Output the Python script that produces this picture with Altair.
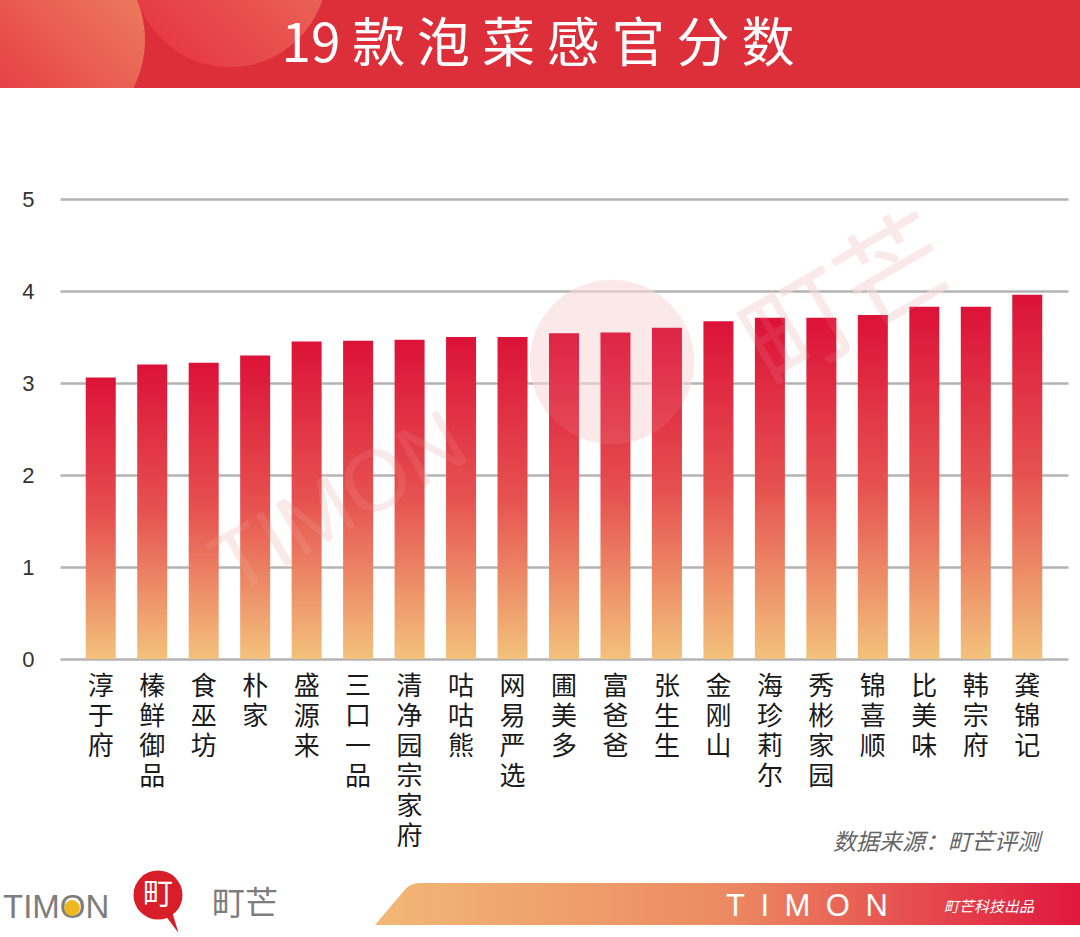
import altair as alt
import pandas as pd

brands = ["淳于府", "榛鲜御品", "食巫坊", "朴家", "盛源来", "三口一品", "清净园宗家府",
          "咕咕熊", "网易严选", "圃美多", "富爸爸", "张生生", "金刚山", "海珍莉尔",
          "秀彬家园", "锦喜顺", "比美味", "韩宗府", "龚锦记"]
scores = [3.06, 3.20, 3.22, 3.30, 3.45, 3.46, 3.47, 3.50, 3.50, 3.54, 3.55, 3.60,
          3.67, 3.71, 3.71, 3.74, 3.83, 3.83, 3.96]
y_ticks = [0, 1, 2, 3, 4, 5]

title_text = "19 款 泡 菜 感 官 分 数"
source_text = "数据来源：町芒评测"

df = pd.DataFrame({"品牌": brands, "分数": scores})
one = alt.Data(values=[{"k": 1}])

W, H = 1008, 460
PL, PT = 60, 199
CJK = "Noto Sans CJK SC"


def px(X):
    return X - PL


def py(Y):
    return Y - PT


bar_grad = alt.Gradient(
    gradient="linear",
    stops=[alt.GradientStop(color="#dc1238", offset=0),
           alt.GradientStop(color="#e65250", offset=0.5),
           alt.GradientStop(color="#f3c27c", offset=1)],
    x1=0, x2=0, y1=0, y2=1)

bars = alt.Chart(df).mark_bar(fill=bar_grad).encode(
    x=alt.X("品牌:N", sort=brands,
            scale=alt.Scale(paddingInner=0.417, paddingOuter=0.5),
            axis=alt.Axis(title=None, labelAngle=0, domain=False, ticks=False,
                          labelExpr="split(datum.label, '')",
                          labelFont=CJK, labelFontSize=26, labelColor="#1a1a1a",
                          labelLineHeight=30, labelPadding=14, labelBaseline="top")),
    y=alt.Y("分数:Q", scale=alt.Scale(domain=[0, 5]),
            axis=alt.Axis(title=None, values=y_ticks, domain=False, ticks=False,
                          grid=True, gridColor="#b3b3b3", gridWidth=2.5,
                          labelFont="Liberation Sans", labelFontSize=22,
                          labelColor="#333333", labelPadding=26)),
)

# header band with decorative circles
header = alt.Chart(one).mark_rect(color="#dd2f3a").encode(
    x=alt.value(px(0)), x2=alt.value(px(1080)), y=alt.value(py(0)), y2=alt.value(py(88)))

circ1_grad = alt.Gradient(gradient="linear",
                          stops=[alt.GradientStop(color="#e3233b", offset=0),
                                 alt.GradientStop(color="#ee8a62", offset=1)],
                          x1=0, x2=1, y1=1, y2=0)
circ2_grad = alt.Gradient(gradient="linear",
                          stops=[alt.GradientStop(color="#e53040", offset=0),
                                 alt.GradientStop(color="#ec7a60", offset=1)],
                          x1=0, x2=1, y1=1, y2=0)
circle1 = alt.Chart(one).mark_arc(radius=105, theta=0, theta2=6.2832, fill=circ1_grad).encode(
    x=alt.value(px(40)), y=alt.value(py(40)))
circle2 = alt.Chart(one).mark_arc(radius=97, theta=0, theta2=6.2832, fill=circ2_grad).encode(
    x=alt.value(px(230)), y=alt.value(py(-30)))
cover = alt.Chart(one).mark_rect(color="white").encode(
    x=alt.value(px(0)), x2=alt.value(px(1080)), y=alt.value(py(88)), y2=alt.value(py(185)))

title = alt.Chart(one).mark_text(text=title_text, font=CJK, fontSize=53, color="white",
                                 align="center", baseline="middle").encode(
    x=alt.value(px(538)), y=alt.value(py(46)))


# watermark: pink behind the bars, whitish veil over them
def watermark(color, op):
    c = alt.Chart(one).mark_point(shape="circle", filled=True, size=27000,
                                  color=color, opacity=op).encode(
        x=alt.value(px(612)), y=alt.value(py(362)))
    t = alt.Chart(one).mark_text(text="TIMON", font="Liberation Sans", fontSize=86,
                                 angle=330, color=color, opacity=op,
                                 align="center", baseline="middle").encode(
        x=alt.value(px(340)), y=alt.value(py(505)))
    g = alt.Chart(one).mark_text(text="町芒", font=CJK, fontSize=110,
                                 angle=330, color=color, opacity=op,
                                 align="center", baseline="middle").encode(
        x=alt.value(px(850)), y=alt.value(py(305)))
    return [c, t, g]


wm_back = watermark("#f7d6d6", 0.55)
wm_front = watermark("#ffffff", 0.08)

source = alt.Chart(one).mark_text(text=source_text, font=CJK, fontSize=23, fontStyle="italic",
                                  color="#666666", align="right", baseline="middle").encode(
    x=alt.value(px(1040)), y=alt.value(py(843)))

# footer left logo
logo_timon = alt.Chart(one).mark_text(text="TIMON", font="Liberation Sans", fontSize=33,
                                      color="#7d7d7d", align="left", baseline="middle").encode(
    x=alt.value(px(3)), y=alt.value(py(908)))
logo_dot = alt.Chart(one).mark_point(shape="circle", filled=True, size=250,
                                     color="#f0b820", opacity=1).encode(
    x=alt.value(px(72)), y=alt.value(py(908)))
logo_tail = alt.Chart(one).mark_point(shape="M -0.6 -1 L 0.9 1 L 0.3 -1 Z", filled=True,
                                      size=900, color="#d81e28", opacity=1).encode(
    x=alt.value(px(165)), y=alt.value(py(918)))
logo_circle = alt.Chart(one).mark_point(shape="circle", filled=True, size=2400,
                                        color="#d81e28", opacity=1).encode(
    x=alt.value(px(158)), y=alt.value(py(895)))
logo_glyph = alt.Chart(one).mark_text(text="町", font=CJK, fontSize=30, color="white",
                                      align="center", baseline="middle").encode(
    x=alt.value(px(158)), y=alt.value(py(895)))
logo_ting = alt.Chart(one).mark_text(text="町芒", font=CJK, fontSize=33, color="#7d7d7d",
                                     align="left", baseline="middle").encode(
    x=alt.value(px(212)), y=alt.value(py(905)))

# footer band
band_grad = alt.Gradient(gradient="linear",
                         stops=[alt.GradientStop(color="#f2b877", offset=0),
                                alt.GradientStop(color="#ec8a62", offset=0.5),
                                alt.GradientStop(color="#e0173d", offset=1)],
                         x1=0, x2=1, y1=0, y2=0)
# custom path scaled by sqrt(size)/2 = 50 px per unit
band = alt.Chart(one).mark_point(
    shape="M -7.06 0.42 L -6.45 -0.3 Q -6.35 -0.42 -6.15 -0.42 L 7.06 -0.42 L 7.06 0.42 Z",
    filled=True, size=10000, fill=band_grad, opacity=1, strokeWidth=0).encode(
    x=alt.value(px(728)), y=alt.value(py(904)))
band_timon = alt.Chart(one).mark_text(text="T\u2002I\u2002M\u2002O\u2002N", font="Liberation Sans",
                                      fontSize=31, color="white", align="left",
                                      baseline="middle").encode(
    x=alt.value(px(726)), y=alt.value(py(907)))
band_sub = alt.Chart(one).mark_text(text="町芒科技出品", font=CJK, fontSize=15, fontStyle="italic",
                                    color="white", align="left", baseline="middle").encode(
    x=alt.value(px(944)), y=alt.value(py(907)))

chart = alt.layer(
    header, circle1, circle2, cover, title,
    *wm_back,
    bars,
    *wm_front,
    source,
    logo_timon, logo_dot, logo_tail, logo_circle, logo_glyph, logo_ting,
    band, band_timon, band_sub,
).properties(
    width=W, height=H,
    autosize=alt.AutoSizeParams(type="none"),
    padding={"left": PL, "top": PT, "right": 1080 - PL - W, "bottom": 937 - PT - H},
    background="white",
).configure_view(stroke=None)

chart.save("out.html", embed_options={"renderer": "svg", "actions": False})
